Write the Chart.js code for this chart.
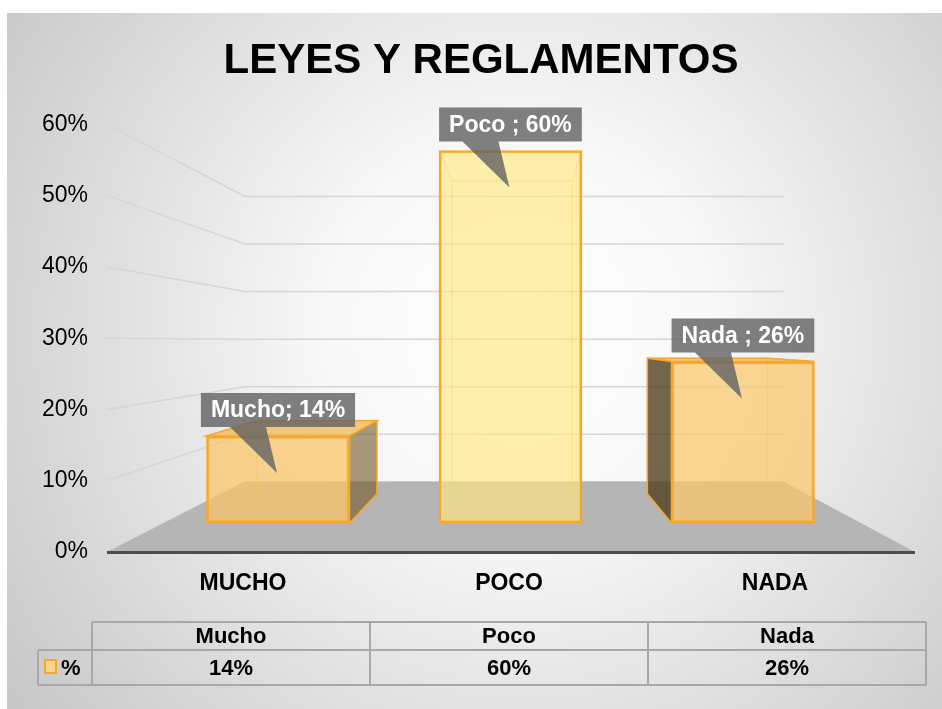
<!DOCTYPE html>
<html>
<head>
<meta charset="utf-8">
<script src="https://cdn.jsdelivr.net/npm/chart.js@4.4.1/dist/chart.umd.min.js"></script>
<style>
  html, body { margin: 0; padding: 0; background: #fff; }
  #wrap { width: 942px; height: 709px; }
</style>
</head>
<body>
<div id="wrap"><canvas id="chart" width="942" height="709"></canvas></div>
<script>
// Datos
const categories = ['MUCHO', 'POCO', 'NADA'];
const rowNames = ['Mucho', 'Poco', 'Nada'];
const values = [14, 60, 26];
const seriesName = '%';
const calloutSep = ['; ', ' ; ', ' ; '];

const FONT = "'Liberation Sans', Arial, sans-serif";
const barFill = ['rgba(252,196,100,0.7)', 'rgba(255,232,130,0.65)', 'rgba(252,198,105,0.7)'];
const barEdge = '#f6a82a';

// punto de fuga para el efecto 3D
const VP = { x: 521, y: 341 };
const T_WALL = 0.333;
const T_BAR = 0.16;

function proj(x, y, t) {
    return [x + (VP.x - x) * t, y + (VP.y - y) * t];
}

function poly(ctx, pts) {
    ctx.beginPath();
    ctx.moveTo(pts[0][0], pts[0][1]);
    for (let i = 1; i < pts.length; i++) ctx.lineTo(pts[i][0], pts[i][1]);
    ctx.closePath();
}

const scene3d = {
    id: 'scene3d',
    beforeDraw(chart) {
        const ctx = chart.ctx;
        ctx.save();
        ctx.fillStyle = '#fff';
        ctx.fillRect(0, 0, chart.width, chart.height);
        const g = ctx.createRadialGradient(520, 330, 0, 520, 330, 640);
        g.addColorStop(0, '#ffffff');
        g.addColorStop(0.3, '#f8f8f8');
        g.addColorStop(1, '#c6c6c6');
        ctx.fillStyle = g;
        ctx.fillRect(7, 13, chart.width - 7, chart.height - 13);
        ctx.restore();
    },
    beforeDatasetsDraw(chart) {
        const ctx = chart.ctx;
        const area = chart.chartArea;
        const yS = chart.scales.y;
        const fl = area.left - 3, fr = area.right + 7;
        ctx.save();

        // lineas de la cuadricula (pared lateral y pared del fondo)
        ctx.strokeStyle = '#d6d6d6';
        ctx.lineWidth = 1.5;
        yS.ticks.forEach(tk => {
            const py = yS.getPixelForValue(tk.value);
            const bl = proj(fl, py, T_WALL);
            const br = proj(fr, py, T_WALL);
            ctx.beginPath();
            ctx.moveTo(fl, py);
            ctx.lineTo(bl[0], bl[1]);
            ctx.lineTo(br[0], br[1]);
            ctx.stroke();
        });

        // piso
        const y0 = yS.getPixelForValue(0);
        const bl = proj(fl, y0, T_WALL), br = proj(fr, y0, T_WALL);
        ctx.fillStyle = '#b5b5b5';
        poly(ctx, [[fl, y0], [fr, y0], br, bl]);
        ctx.fill();
        ctx.strokeStyle = '#4d4d4d';
        ctx.lineWidth = 3;
        ctx.beginPath();
        ctx.moveTo(fl, y0 + 0.5);
        ctx.lineTo(fr, y0 + 0.5);
        ctx.stroke();

        // caras traseras y laterales de las barras
        const meta = chart.getDatasetMeta(0);
        meta.data.forEach((el, i) => {
            const p = el.getProps(['x', 'y', 'base', 'width'], true);
            const L = p.x - p.width / 2, R = p.x + p.width / 2, T = p.y, B = p.base;
            const bLT = proj(L, T, T_BAR), bRT = proj(R, T, T_BAR);
            const bLB = proj(L, B, T_BAR), bRB = proj(R, B, T_BAR);

            // aristas ocultas (vistas a traves)
            ctx.strokeStyle = 'rgba(246,168,42,0.35)';
            ctx.lineWidth = 1.5;
            poly(ctx, [bLT, bRT, bRB, bLB]);
            ctx.stroke();
            ctx.beginPath();
            ctx.moveTo(L, T); ctx.lineTo(bLT[0], bLT[1]);
            ctx.moveTo(R, T); ctx.lineTo(bRT[0], bRT[1]);
            ctx.moveTo(L, B); ctx.lineTo(bLB[0], bLB[1]);
            ctx.moveTo(R, B); ctx.lineTo(bRB[0], bRB[1]);
            ctx.stroke();

            ctx.strokeStyle = barEdge;
            ctx.lineWidth = 1.5;
            if (bLT[1] < T - 1) {
                ctx.fillStyle = 'rgba(245,182,80,0.75)';
                poly(ctx, [[L, T], [R, T], bRT, bLT]);
                ctx.fill(); ctx.stroke();
            }
            if (bRT[0] > R + 1) {
                ctx.fillStyle = 'rgba(115,88,40,0.6)';
                poly(ctx, [[R, T], bRT, bRB, [R, B]]);
                ctx.fill(); ctx.stroke();
            }
            if (bLT[0] < L - 1) {
                ctx.fillStyle = 'rgba(78,60,28,0.78)';
                poly(ctx, [[L, T], bLT, bLB, [L, B]]);
                ctx.fill(); ctx.stroke();
            }
        });
        ctx.restore();
    },
    afterDatasetsDraw(chart) {
        const ctx = chart.ctx;
        const meta = chart.getDatasetMeta(0);
        ctx.save();
        ctx.font = 'bold 23px ' + FONT;
        ctx.textAlign = 'center';
        ctx.textBaseline = 'middle';
        meta.data.forEach((el, i) => {
            const p = el.getProps(['x', 'y'], true);
            const txt = rowNames[i] + calloutSep[i] + values[i] + '%';
            const w = ctx.measureText(txt).width + 20;
            const h = 34;
            const bx = p.x - w / 2, by = p.y - 9 - h;
            ctx.fillStyle = 'rgba(100,100,100,0.82)';
            ctx.beginPath();
            ctx.rect(bx, by, w, h);
            ctx.moveTo(p.x - 48, by + h);
            ctx.lineTo(p.x - 1, p.y + 37);
            ctx.lineTo(p.x - 12, by + h);
            ctx.closePath();
            ctx.fill();
            ctx.fillStyle = '#fff';
            ctx.fillText(txt, p.x, by + h / 2 + 1);
        });
        ctx.restore();
    },
    afterDraw(chart) {
        // tabla de datos
        const ctx = chart.ctx;
        const left = 92, right = 926, legL = 38;
        const top = 622, mid = 650, bot = 685;
        const colW = (right - left) / rowNames.length;
        ctx.save();
        ctx.strokeStyle = '#a8a8a8';
        ctx.lineWidth = 2;
        ctx.beginPath();
        ctx.moveTo(left, top); ctx.lineTo(right, top);
        ctx.moveTo(legL, mid); ctx.lineTo(right, mid);
        ctx.moveTo(legL, bot); ctx.lineTo(right, bot);
        ctx.moveTo(legL, mid); ctx.lineTo(legL, bot);
        for (let i = 0; i <= rowNames.length; i++) {
            const x = left + i * colW;
            ctx.moveTo(x, top); ctx.lineTo(x, bot);
        }
        ctx.stroke();

        ctx.fillStyle = '#000';
        ctx.font = 'bold 22px ' + FONT;
        ctx.textAlign = 'center';
        ctx.textBaseline = 'middle';
        rowNames.forEach((n, i) => {
            const cx = left + (i + 0.5) * colW;
            ctx.fillText(n, cx, (top + mid) / 2 + 1);
            ctx.fillText(values[i] + '%', cx, (mid + bot) / 2 + 1);
        });

        // leyenda
        ctx.fillStyle = '#fcd48e';
        ctx.strokeStyle = barEdge;
        ctx.lineWidth = 2;
        ctx.fillRect(45, 660, 11, 13);
        ctx.strokeRect(45, 660, 11, 13);
        ctx.fillStyle = '#000';
        ctx.textAlign = 'left';
        ctx.fillText(seriesName, 61, (mid + bot) / 2 + 1);
        ctx.restore();
    }
};

new Chart(document.getElementById('chart'), {
    type: 'bar',
    data: {
        labels: categories,
        datasets: [{
            label: seriesName,
            data: values.map((v, i) => ({ x: i, y: v })),
            xAxisID: 'xb',
            yAxisID: 'yb',
            backgroundColor: barFill,
            borderColor: barEdge,
            borderWidth: 2.5,
            borderSkipped: false,
            barThickness: 143
        }]
    },
    options: {
        responsive: false,
        animation: false,
        devicePixelRatio: 1,
        layout: { padding: { top: 0, left: 20, right: 0, bottom: 0 } },
        plugins: {
            legend: { display: false },
            tooltip: { enabled: false },
            title: {
                display: true,
                text: 'LEYES Y REGLAMENTOS',
                color: '#000',
                font: { family: FONT, size: 42, weight: 'bold' },
                padding: { top: 36, bottom: 38 }
            }
        },
        scales: {
            x: {
                type: 'category',
                offset: true,
                grid: { display: false, drawTicks: false },
                border: { display: false },
                ticks: {
                    color: '#000',
                    padding: 18,
                    font: { family: FONT, size: 23, weight: 'bold' }
                },
                afterFit: s => { s.height = 157; }
            },
            xb: {
                type: 'linear',
                display: false,
                offset: false,
                min: -0.7226,
                max: 2.71
            },
            y: {
                min: 0,
                max: 60,
                grid: { display: false, drawTicks: false },
                border: { display: false },
                ticks: {
                    stepSize: 10,
                    color: '#000',
                    padding: 22,
                    font: { family: FONT, size: 23 },
                    callback: v => v + '%'
                },
                afterFit: s => { s.width = 90; }
            },
            yb: {
                position: 'right',
                min: -4.68,
                max: 64.2,
                grid: { display: false, drawTicks: false },
                border: { display: false },
                ticks: { display: false },
                afterFit: s => { s.width = 34; }
            }
        }
    },
    plugins: [scene3d]
});
</script>
</body>
</html>
